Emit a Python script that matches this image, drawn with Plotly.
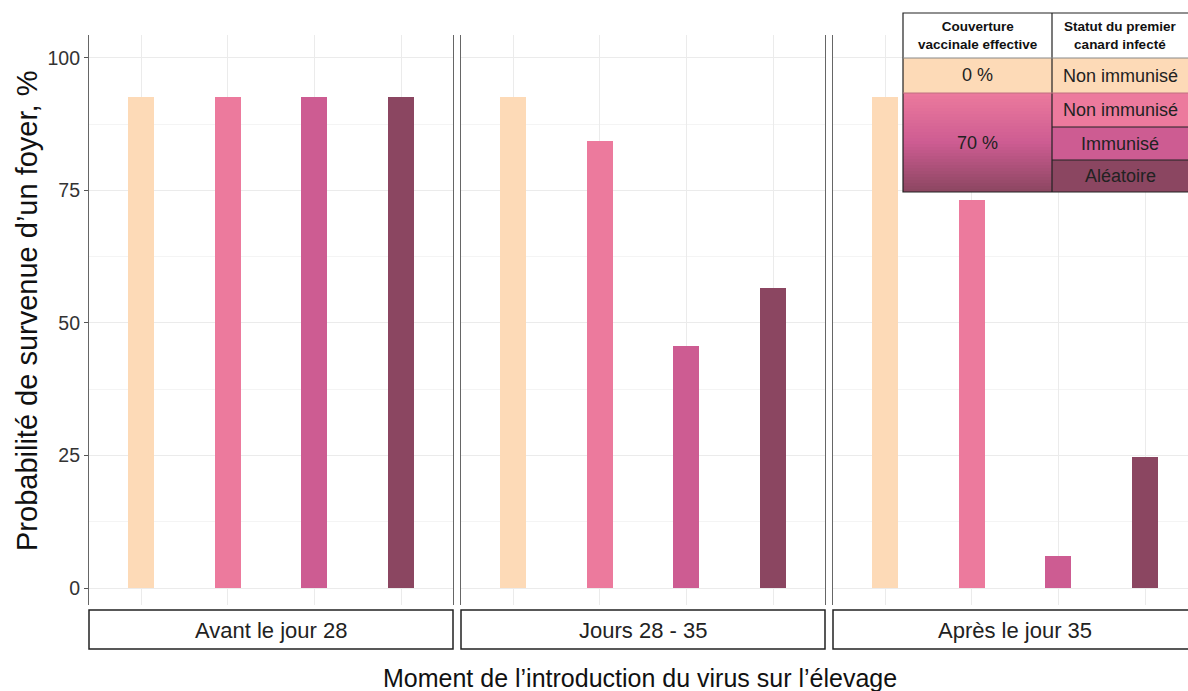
import plotly.graph_objects as go

# Données
periodes = ["Avant le jour 28", "Jours 28 - 35", "Après le jour 35"]
groupes = ["0 % - Non immunisé", "70 % - Non immunisé", "70 % - Immunisé", "70 % - Aléatoire"]
couleurs = ["#FDDAB7", "#EC7A9D", "#CD5C92", "#8B4661"]

non_immunise_0 = [92.6, 92.6, 92.6]
non_immunise_70 = [92.6, 84.3, 73.2]
immunise_70 = [92.6, 45.7, 6.0]
aleatoire_70 = [92.6, 56.6, 24.7]
series = [non_immunise_0, non_immunise_70, immunise_70, aleatoire_70]

yticks = [0, 25, 50, 75, 100]

W, H = 1188, 691
FONT = "Liberation Sans, Arial, sans-serif"


def px(x):
    return x / W


def py(y):
    return 1 - y / H


# panneaux en pixels
panneaux = [(89, 453), (461, 825), (833, 1188)]
unit = (453 - 89) / 4.2

fig = go.Figure()

for i, periode in enumerate(periodes):
    suffix = "" if i == 0 else str(i + 1)
    fig.add_trace(go.Bar(
        x=groupes,
        y=[s[i] for s in series],
        marker=dict(color=couleurs, line=dict(width=0)),
        width=0.3,
        xaxis="x" + suffix,
        yaxis="y" + suffix,
        showlegend=False,
    ))

y_dom = [py(605), py(35)]
y_range = [-3.2, 104.3]

for i, (x0, x1) in enumerate(panneaux):
    suffix = "" if i == 0 else str(i + 1)
    xr = [-0.6, -0.6 + (x1 - x0) / unit]
    fig.update_layout(**{
        "xaxis" + suffix: dict(
            domain=[px(x0), px(x1)],
            range=xr,
            type="category",
            categoryorder="array",
            categoryarray=groupes,
            showticklabels=False,
            showgrid=True,
            gridcolor="#ebebeb",
            gridwidth=1,
            zeroline=False,
            showline=False,
            anchor="y" + suffix,
        ),
        "yaxis" + suffix: dict(
            domain=y_dom,
            range=y_range,
            tickvals=yticks,
            showticklabels=(i == 0),
            ticks="outside" if i == 0 else "",
            ticklen=4,
            tickcolor="#555",
            tickfont=dict(size=19.5, color="#333", family=FONT),
            showgrid=True,
            gridcolor="#ebebeb",
            gridwidth=1,
            minor=dict(dtick=12.5, tick0=0, showgrid=True, gridcolor="#f4f4f4", gridwidth=1),
            zeroline=False,
            showline=True,
            mirror=(i < 2),
            linecolor="#666",
            linewidth=1.2,
            anchor="x" + suffix,
        ),
    })

shapes = []
annotations = []


def texte(t, x, y, font, angle=0):
    annotations.append(dict(text=t, xref="paper", yref="paper", x=px(x), y=py(y),
                            xanchor="center", yanchor="middle", textangle=angle,
                            showarrow=False, font=font))


# bandeaux des panneaux
for (x0, x1), periode in zip(panneaux, periodes):
    shapes.append(dict(type="rect", xref="paper", yref="paper",
                       x0=px(x0), x1=px(x1 if x1 < 1188 else 1196), y0=py(649), y1=py(610),
                       line=dict(color="#222", width=1.5), fillcolor="white"))
    texte(periode, (x0 + (x1 if x1 < 1188 else 1197)) / 2, 630,
          dict(size=22, color="#222", family=FONT))

# titres des axes
texte("Probabilité de survenue d’un foyer, %", 27, 311, dict(size=29, color="#111", family=FONT), -90)
texte("Moment de l’introduction du virus sur l’élevage", 640, 678, dict(size=25, color="#111", family=FONT))

# tableau de légende
c0, c1, c2 = 903, 1052, 1196
rows = [13, 58, 93, 127, 160, 192]
shapes.append(dict(type="rect", xref="paper", yref="paper", x0=px(c0), x1=px(c2),
                   y0=py(rows[1]), y1=py(rows[0]), fillcolor="white", line=dict(width=0)))
shapes.append(dict(type="rect", xref="paper", yref="paper", x0=px(c0), x1=px(c2),
                   y0=py(rows[2]), y1=py(rows[1]), fillcolor=couleurs[0], line=dict(width=0)))
for k in range(3):
    shapes.append(dict(type="rect", xref="paper", yref="paper", x0=px(c1), x1=px(c2),
                       y0=py(rows[3 + k]), y1=py(rows[2 + k]), fillcolor=couleurs[1 + k], line=dict(width=0)))


def hex2rgb(h):
    return [int(h[j:j + 2], 16) for j in (1, 3, 5)]


# dégradé de la colonne 70 %
n = 33
top, bot = rows[2], rows[5]
stops = [hex2rgb(c) for c in couleurs[1:]]
for k in range(n):
    t = (k + 0.5) / n
    if t < 0.5:
        a, b, f = stops[0], stops[1], t / 0.5
    else:
        a, b, f = stops[1], stops[2], (t - 0.5) / 0.5
    col = "rgb(%d,%d,%d)" % tuple(round(a[j] + (b[j] - a[j]) * f) for j in range(3))
    ya = top + (bot - top) * k / n
    yb = min(top + (bot - top) * (k + 1) / n + 2, bot)
    shapes.append(dict(type="rect", xref="paper", yref="paper", x0=px(c0), x1=px(c1),
                       y0=py(yb), y1=py(ya), fillcolor=col, line=dict(width=0)))

# lignes du tableau
ln = dict(color="#222", width=1.2)
shapes.append(dict(type="rect", xref="paper", yref="paper", x0=px(c0), x1=px(c2),
                   y0=py(rows[5]), y1=py(rows[0]), line=ln, fillcolor="rgba(0,0,0,0)"))
shapes.append(dict(type="line", xref="paper", yref="paper", x0=px(c1), x1=px(c1),
                   y0=py(rows[5]), y1=py(rows[0]), line=ln))
shapes.append(dict(type="line", xref="paper", yref="paper", x0=px(c0), x1=px(c2),
                   y0=py(rows[1]), y1=py(rows[1]), line=dict(color="#888", width=1)))
shapes.append(dict(type="line", xref="paper", yref="paper", x0=px(c0), x1=px(c2),
                   y0=py(rows[2]), y1=py(rows[2]), line=dict(color="#c07080", width=1)))
for r in rows[3:5]:
    shapes.append(dict(type="line", xref="paper", yref="paper", x0=px(c1), x1=px(c2),
                       y0=py(r), y1=py(r), line=ln))

hdr = dict(size=13.5, color="#111", family=FONT)
texte("<b>Couverture<br>vaccinale effective</b>", (c0 + c1) / 2, 35.5, hdr)
texte("<b>Statut du premier<br>canard infecté</b>", (c1 + 1188) / 2, 35.5, hdr)
cell = dict(size=18, color="#222", family=FONT)
texte("0 %", (c0 + c1) / 2, 75, cell)
texte("70 %", (c0 + c1) / 2, 143, cell)
statuts = ["Non immunisé", "Non immunisé", "Immunisé", "Aléatoire"]
for k, s in enumerate(statuts):
    texte(s, (c1 + 1188) / 2, (rows[1 + k] + rows[2 + k]) / 2, cell)

fig.update_layout(
    width=W, height=H,
    margin=dict(l=0, r=0, t=0, b=0, autoexpand=False),
    paper_bgcolor="white",
    plot_bgcolor="white",
    bargap=0,
    shapes=shapes,
    annotations=annotations,
    font=dict(family=FONT),
)

fig.write_html("out.html", config={"displayModeBar": False},
               post_script="document.body.style.margin='0';document.body.style.overflow='hidden';")
